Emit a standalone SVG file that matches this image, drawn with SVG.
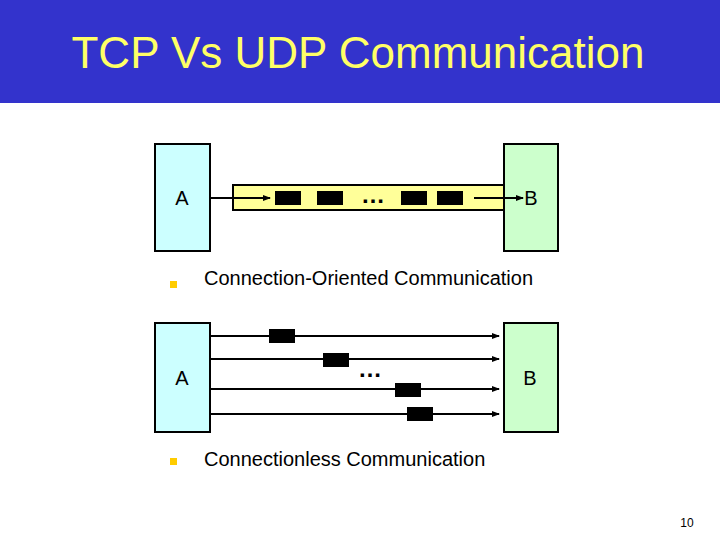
<svg xmlns="http://www.w3.org/2000/svg" width="720" height="540" viewBox="0 0 720 540">
<defs>
<style>
.box{stroke:#000;stroke-width:2}
.ln{stroke:#000;stroke-width:2;fill:none}
.lbl{font-family:"Liberation Sans",Arial,sans-serif;font-size:20px;fill:#000}
.dots{font-family:"Liberation Sans",Arial,sans-serif;font-size:24px;font-weight:bold;fill:#000}
.txt{font-family:"Liberation Sans",Arial,sans-serif;font-size:20px;fill:#000}
.pkt{fill:#000}
.bul{fill:#FFCC00}
</style>
<marker id="ah" markerWidth="8" markerHeight="6" refX="7" refY="3" orient="auto" markerUnits="userSpaceOnUse">
<path d="M0,0 L8,3 L0,6 Z" fill="#000"/>
</marker>
</defs>
<rect x="0" y="0" width="720" height="540" fill="#fff"/>
<rect x="0" y="0" width="720" height="103" fill="#3333CC"/>
<text x="358" y="68" text-anchor="middle" font-family="'Liberation Sans',Arial,sans-serif" font-size="44" fill="#FFFF66">TCP Vs UDP Communication</text>

<g id="tube1"><rect x="233" y="185" width="271" height="25" fill="#FFFF99" stroke="#000" stroke-width="2"/></g>
<g id="A1"><rect class="box" x="155" y="144" width="55" height="107" fill="#CCFFFF"/><text class="lbl" x="182" y="205" text-anchor="middle">A</text></g>
<g id="B1"><rect class="box" x="504" y="144" width="54" height="107" fill="#CCFFCC"/><text class="lbl" x="531" y="205" text-anchor="middle">B</text></g>
<g id="A2"><rect class="box" x="155" y="323" width="55" height="109" fill="#CCFFFF"/><text class="lbl" x="182" y="385" text-anchor="middle">A</text></g>
<g id="B2"><rect class="box" x="504" y="323" width="54" height="109" fill="#CCFFCC"/><text class="lbl" x="530" y="385" text-anchor="middle">B</text></g>

<g id="connectors">
<line class="ln" x1="210" y1="198" x2="270" y2="198" marker-end="url(#ah)"/>
<line class="ln" x1="474" y1="198" x2="523" y2="198" marker-end="url(#ah)"/>
<line class="ln" x1="210" y1="336" x2="499" y2="336" marker-end="url(#ah)"/>
<line class="ln" x1="210" y1="359" x2="499" y2="359" marker-end="url(#ah)"/>
<line class="ln" x1="210" y1="389" x2="499" y2="389" marker-end="url(#ah)"/>
<line class="ln" x1="210" y1="414" x2="499" y2="414" marker-end="url(#ah)"/>
</g>

<g id="packets">
<rect class="pkt" x="275" y="191" width="26" height="14"/>
<rect class="pkt" x="317" y="191" width="26" height="14"/>
<rect class="pkt" x="401" y="191" width="26" height="14"/>
<rect class="pkt" x="437" y="191" width="26" height="14"/>
<text class="dots" x="373" y="203" text-anchor="middle">…</text>
<rect class="pkt" x="269" y="329" width="26" height="14"/>
<rect class="pkt" x="323" y="353" width="26" height="14"/>
<rect class="pkt" x="395" y="383" width="26" height="14"/>
<rect class="pkt" x="407" y="407" width="26" height="14"/>
<text class="dots" x="370" y="377" text-anchor="middle">…</text>
</g>

<g id="bullet1"><rect class="bul" x="170" y="281" width="7" height="7"/><text class="txt" x="204" y="285">Connection-Oriented Communication</text></g>
<g id="bullet2"><rect class="bul" x="170" y="458" width="7" height="7"/><text class="txt" x="204" y="466">Connectionless Communication</text></g>
<text x="687" y="527" text-anchor="middle" font-family="'Liberation Sans',Arial,sans-serif" font-size="12" fill="#000">10</text>
</svg>
